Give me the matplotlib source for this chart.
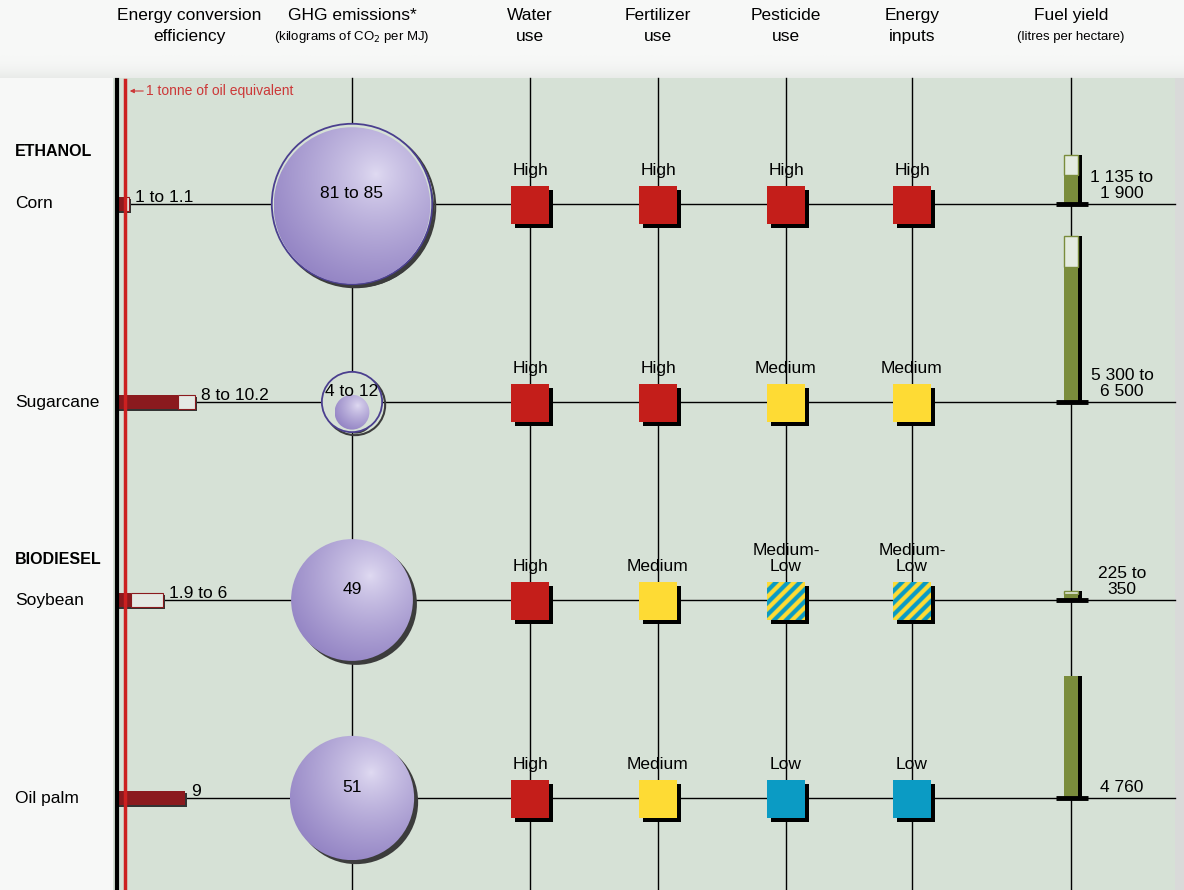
import numpy as np
import matplotlib
matplotlib.use('Agg')
import matplotlib.pyplot as plt
from matplotlib.patches import Rectangle, Circle

plt.rcParams['font.family'] = ['Liberation Sans Narrow', 'Liberation Sans', 'DejaVu Sans']

# data
crops = ['Corn', 'Sugarcane', 'Soybean', 'Oil palm']
groups = ['ETHANOL', 'BIODIESEL']
eff_low = [1, 8, 1.9, 9]
eff_high = [1.1, 10.2, 6, 9]
eff_labels = ['1 to 1.1', '8 to 10.2', '1.9 to 6', '9']
ghg_low = [81, 4, 49, 51]
ghg_high = [85, 12, 49, 51]
ghg_labels = ['81 to 85', '4 to 12', '49', '51']
water_use = ['High', 'High', 'High', 'High']
fertilizer_use = ['High', 'High', 'Medium', 'Medium']
pesticide_use = ['High', 'Medium', 'Medium-Low', 'Low']
energy_inputs = ['High', 'Medium', 'Medium-Low', 'Low']
yield_low = [1135, 5300, 225, 4760]
yield_high = [1900, 6500, 350, 4760]
yield_labels = ['1 135 to\n1 900', '5 300 to\n6 500', '225 to\n350', '4 760']
headers = ['Energy conversion\nefficiency', 'GHG emissions*', 'Water\nuse', 'Fertilizer\nuse',
           'Pesticide\nuse', 'Energy\ninputs', 'Fuel yield']
subheaders = ['', '(kilograms of CO$_2$ per MJ)', '', '', '', '', '(litres per hectare)']

# layout (pixels)
row_y = [204, 402, 600, 798]
group_y = [152, 560]
col_x = [189, 352, 530, 658, 786, 912, 1071]
left_x = 117
eff_scale = 7.6          # px per unit
ghg_k = 8.7              # radius = k * sqrt(value)
yield_scale = 166 / 6500.0
rating_colors = {'High': '#c41e1a', 'Medium': '#fedb34', 'Low': '#0b9bc4'}
panel_col = '#d6e1d6'
fs = 12.5

fig = plt.figure(figsize=(11.84, 8.90), dpi=100, facecolor='#f7f8f7')
ax = fig.add_axes([0, 0, 1, 1])
ax.set_xlim(0, 1184)
ax.set_ylim(890, 0)
ax.axis('off')

# soft shading above the panel
shade = np.linspace(0, 1, 40)[:, None] ** 2 * np.ones((1, 10))
ax.imshow(shade, extent=(0, 1184, 78, 55), origin='upper', aspect='auto', zorder=0,
          cmap=matplotlib.colors.LinearSegmentedColormap.from_list('sh', ['#f7f8f7', '#e9ebe9']))
ax.add_patch(Rectangle((113, 78), 1062, 812, facecolor=panel_col, edgecolor='none', zorder=0.5))
ax.add_patch(Rectangle((1175, 78), 9, 812, facecolor='#d9dad9', edgecolor='none', zorder=0.5))

# grid lines
for y in row_y:
    ax.plot([left_x, 1175], [y, y], color='black', lw=1, zorder=1)
for x in col_x[1:]:
    ax.plot([x, x], [78, 890], color='black', lw=1, zorder=1)
ax.plot([left_x, left_x], [80, 890], color='black', lw=3, zorder=5)
ax.plot([125, 125], [80, 890], color='#cc2020', lw=2.5, zorder=5)
ax.text(146, 91, '1 tonne of oil equivalent', color='#cc3838', fontsize=10, va='center', zorder=6)
ax.annotate('', xy=(127, 91), xytext=(146, 91),
            arrowprops=dict(arrowstyle='-|>', color='#cc3838', lw=0.8, mutation_scale=6), zorder=6)

# headers
for x, h, s in zip(col_x, headers, subheaders):
    ax.text(x, 8, h, ha='center', va='top', fontsize=fs, linespacing=1.5)
    if s:
        ax.text(x, 37, s, ha='center', va='center', fontsize=9.5)

# row labels
for y, crop in zip(row_y, crops):
    ax.text(15, y, crop, ha='left', va='center', fontsize=fs)
for y, grp in zip(group_y, groups):
    ax.text(15, y, grp, ha='left', va='center', fontsize=11.5, fontweight='bold')

# energy conversion efficiency
for y, lo, hi, lab in zip(row_y, eff_low, eff_high, eff_labels):
    x0 = left_x
    xl = x0 + lo * eff_scale
    xh = x0 + max(hi * eff_scale, lo * eff_scale + 4) if hi > lo else xl
    ax.add_patch(Rectangle((x0 + 2, y - 5), xh - x0, 14, facecolor='#333333', edgecolor='none', zorder=2))
    ax.add_patch(Rectangle((x0, y - 7), xl - x0, 14, facecolor='#8b1a1e', edgecolor='none', zorder=3))
    if hi > lo:
        ax.add_patch(Rectangle((xl, y - 7), xh - xl, 14, facecolor='#e4e9e4', edgecolor='#8b1a1e',
                               lw=0.8, zorder=3))
    ax.text(xh + 6, y - 2, lab, ha='left', va='baseline', fontsize=fs, zorder=6)


def sphere(cx, cy, r):
    n = 240
    xs = np.linspace(-1, 1, n)
    X, Y = np.meshgrid(xs, xs)
    d = np.sqrt((X - 0.3) ** 2 + (Y + 0.4) ** 2)
    t = np.clip(d / 1.5, 0, 1) ** 0.8
    c0 = np.array([0.88, 0.86, 0.95])
    c1 = np.array([0.58, 0.52, 0.77])
    img = c0 + (c1 - c0) * t[..., None]
    ax.add_patch(Circle((cx + 4, cy + 4), r, facecolor='#3c3c3c', edgecolor='none', zorder=2))
    im = ax.imshow(img, extent=(cx - r, cx + r, cy + r, cy - r), origin='upper', aspect='auto',
                   zorder=3, interpolation='bilinear')
    clip = Circle((cx, cy), r, facecolor='none', edgecolor='none', transform=ax.transData)
    ax.add_patch(clip)
    im.set_clip_path(clip)


# GHG circles
gx = col_x[1]
for y, lo, hi, lab in zip(row_y, ghg_low, ghg_high, ghg_labels):
    rl = ghg_k * np.sqrt(lo)
    rh = ghg_k * np.sqrt(hi)
    cy = y + 0.8 * (rh - rl)
    if hi > lo:
        ax.add_patch(Circle((gx + 3, y + 3), rh, facecolor='none', edgecolor='#3c3c3c', lw=1.5, zorder=2))
        ax.add_patch(Circle((gx, y), rh, facecolor=panel_col if hi - lo > 3 else '#eeeef4',
                            edgecolor='#4b3f8f', lw=1.3, zorder=2.5))
    sphere(gx, cy, rl)
    ax.text(gx, y - 10, lab, ha='center', va='center', fontsize=fs, zorder=6)

# striped texture for "Medium-Low" (image is 2x the square size)
sx, sy = np.meshgrid(np.arange(76), np.arange(76))
stripes = ((sx + sy) // 12) % 2 == 0
stripe_img = np.where(stripes[..., None],
                      np.array(matplotlib.colors.to_rgb(rating_colors['Medium'])),
                      np.array(matplotlib.colors.to_rgb(rating_colors['Low'])))

# rating squares
for x, ratings in zip(col_x[2:6], [water_use, fertilizer_use, pesticide_use, energy_inputs]):
    for y, rt in zip(row_y, ratings):
        s = 38
        ax.add_patch(Rectangle((x - s / 2 + 4, y - s / 2 + 5), s, s, facecolor='black', edgecolor='none', zorder=3))
        if rt == 'Medium-Low':
            ax.imshow(stripe_img, extent=(x - s / 2, x + s / 2, y + s / 2 + 1, y - s / 2 + 1),
                      origin='upper', aspect='auto', interpolation='bilinear', zorder=4)
            lab = 'Medium-\nLow'
        else:
            ax.add_patch(Rectangle((x - s / 2, y - s / 2 + 1), s, s, facecolor=rating_colors[rt],
                                   edgecolor='none', zorder=4))
            lab = rt
        ax.text(x, y - 26, lab, ha='center', va='bottom', fontsize=fs, linespacing=1.05, zorder=6)

# fuel yield bars
fx = col_x[6]
for y, lo, hi, lab in zip(row_y, yield_low, yield_high, yield_labels):
    top_hi = y - hi * yield_scale
    top_lo = y - lo * yield_scale
    ax.add_patch(Rectangle((fx + 7, top_hi), 4, y - top_hi, facecolor='black', edgecolor='none', zorder=3))
    ax.add_patch(Rectangle((fx - 7, top_lo), 14, y - top_lo, facecolor='#7a8c3c', edgecolor='none', zorder=4))
    if hi > lo:
        ax.add_patch(Rectangle((fx - 7, top_hi), 14, top_lo - top_hi, facecolor='#e4ebe0',
                               edgecolor='#7a8c3c', lw=1, zorder=4))
    ax.plot([fx - 15, fx + 17], [y, y], color='black', lw=3.5, solid_capstyle='butt', zorder=5)
    ax.text(1122, y - 3, lab, ha='center', va='bottom', fontsize=fs, linespacing=1.05, zorder=6)

ax.set_xlim(0, 1184)
ax.set_ylim(890, 0)
fig.savefig('out.png', dpi=100, facecolor=fig.get_facecolor())
